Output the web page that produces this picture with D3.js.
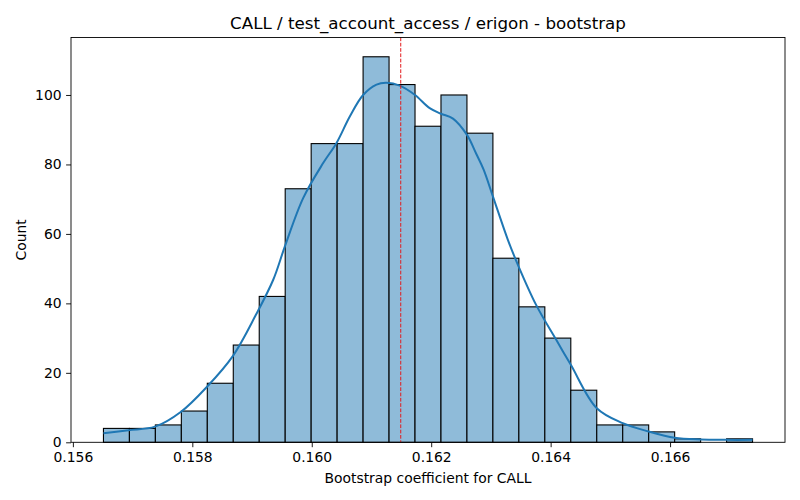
<!DOCTYPE html>
<html>
<head>
<meta charset="utf-8">
<script src="https://cdn.jsdelivr.net/npm/d3@7"></script>
<style>
  body { margin: 0; background: #fff; }
  svg { display: block; font-family: "DejaVu Sans", sans-serif; }
</style>
</head>
<body>
<svg id="chart" width="800" height="500"></svg>
<script>
// ---- data ----
const binStart = 0.156512;
const binEnd = 0.167381;
const counts = [4, 4, 5, 9, 17, 28, 42, 73, 86, 86, 111, 103, 91, 100, 89, 53, 39, 30, 15, 5, 5, 3, 1, 0, 1];
const meanValue = 0.16149;
const kdeX = [0.156512, 0.156930, 0.157376, 0.157811, 0.158246, 0.158681, 0.159065, 0.159355, 0.159550,
  0.159856, 0.160191, 0.160415, 0.160637, 0.160860, 0.161084, 0.161251, 0.161473, 0.161729, 0.161975,
  0.162164, 0.162365, 0.162599, 0.162756, 0.162878, 0.163033, 0.163284, 0.163452, 0.163759, 0.164094,
  0.164338, 0.164773, 0.165207, 0.165642, 0.166077, 0.166512, 0.166946, 0.167381];
const kdeY = [2.6, 3.5, 4.5, 8.8, 16, 24.9, 36.7, 46.8, 56.4,
  70.3, 80.4, 86.2, 93.8, 100, 103, 103.5, 102.7, 100, 96.2,
  94.6, 93.2, 88.5, 83, 78.5, 70.8, 58.3, 51.1, 39.5, 29.5,
  22.3, 9.8, 5.5, 3.1, 1.3, 0.8, 0.7, 0.7];
const xTicks = [0.156, 0.158, 0.160, 0.162, 0.164, 0.166];
const yTicks = [0, 20, 40, 60, 80, 100];
const titleText = "CALL / test_account_access / erigon - bootstrap";
const xLabel = "Bootstrap coefficient for CALL";
const yLabel = "Count";

// ---- layout ----
const svg = d3.select("#chart");
const m = { left: 71, right: 785, top: 37.5, bottom: 442.3 };
const binW = (binEnd - binStart) / counts.length;
const bins = counts.map((c, i) => ({ x0: binStart + i * binW, x1: binStart + (i + 1) * binW, c }));
const pad = (binEnd - binStart) * 0.05;
const x = d3.scaleLinear().domain([binStart - pad, binEnd + pad]).range([m.left, m.right]);
const yMax = d3.max(counts) * 1.05;
const y = d3.scaleLinear().domain([0, yMax]).range([m.bottom, m.top]);

// bars
svg.append("g").selectAll("rect").data(bins.filter(b => b.c > 0)).join("rect")
  .attr("x", d => x(d.x0)).attr("y", d => y(d.c))
  .attr("width", d => x(d.x1) - x(d.x0)).attr("height", d => y(0) - y(d.c))
  .attr("fill", "#8fbbd9").attr("stroke", "#000").attr("stroke-width", 1.1);

// kde
const line = d3.line().x((d, i) => x(kdeX[i])).y(d => y(d)).curve(d3.curveCatmullRom.alpha(0.5));
svg.append("path").datum(kdeY).attr("d", line)
  .attr("fill", "none").attr("stroke", "#1f77b4").attr("stroke-width", 2);

// mean line
svg.append("line").attr("x1", x(meanValue)).attr("x2", x(meanValue))
  .attr("y1", m.top).attr("y2", m.bottom)
  .attr("stroke", "#e31a1c").attr("stroke-width", 1).attr("stroke-dasharray", "3.7,1.6");

// axes
const xAxis = d3.axisBottom(x).tickValues(xTicks).tickFormat(d3.format(".3f")).tickSizeOuter(0).tickSize(4.9).tickPadding(4.5);
const gx = svg.append("g").attr("transform", `translate(0,${m.bottom})`).call(xAxis);
const yAxis = d3.axisLeft(y).tickValues(yTicks).tickSizeOuter(0).tickSize(4.9).tickPadding(4.5);
const gy = svg.append("g").attr("transform", `translate(${m.left},0)`).call(yAxis);
[gx, gy].forEach(g => {
  g.select(".domain").remove();
  g.selectAll("text").attr("font-size", 13.9).attr("fill", "#000").attr("font-family", "DejaVu Sans");
  g.selectAll("line").attr("stroke", "#000").attr("stroke-width", 0.9);
});

// frame
svg.append("rect").attr("x", m.left).attr("y", m.top)
  .attr("width", m.right - m.left).attr("height", m.bottom - m.top)
  .attr("fill", "none").attr("stroke", "#000").attr("stroke-width", 0.9);

// texts
svg.append("text").attr("x", (m.left + m.right) / 2).attr("y", 29)
  .attr("text-anchor", "middle").attr("font-size", 16.7).text(titleText);
svg.append("text").attr("x", (m.left + m.right) / 2).attr("y", 483)
  .attr("text-anchor", "middle").attr("font-size", 13.9).text(xLabel);
svg.append("text").attr("transform", `translate(26,${(m.top + m.bottom) / 2}) rotate(-90)`)
  .attr("text-anchor", "middle").attr("font-size", 13.9).text(yLabel);
</script>
</body>
</html>
